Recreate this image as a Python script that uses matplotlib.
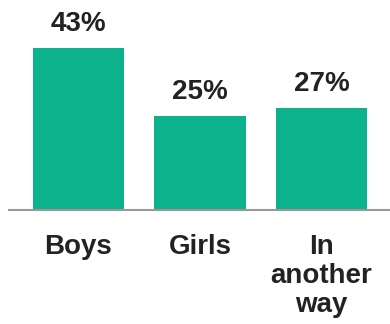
import matplotlib.pyplot as plt

# Data
categories = ["Boys", "Girls", "In\nanother\nway"]
values = [43, 25, 27]
labels = ["43%", "25%", "27%"]

bar_color = "#0BB28C"
font = ["Liberation Sans", "DejaVu Sans"]

fig = plt.figure(figsize=(3.9, 3.24), dpi=100)
ax = fig.add_axes([0, 0.352, 1, 0.648])

x = range(len(categories))
bars = ax.bar(x, values, width=0.75, color=bar_color, zorder=2)

for b, lab in zip(bars, labels):
    ax.text(b.get_x() + b.get_width() / 2, b.get_height() + 4.5, lab,
            ha="center", va="baseline", fontsize=20, fontweight="bold",
            color="#222222", family=font)

ax.set_xlim(-0.646, 2.564)
ax.set_ylim(0, 55.7)
ax.set_yticks([])
ax.set_xticks(list(x))
ax.set_xticklabels(categories, fontsize=20, fontweight="bold", color="#222222",
                   family=font, linespacing=1.15)
ax.tick_params(axis="x", length=0, pad=17)

for s in ["top", "right", "left"]:
    ax.spines[s].set_visible(False)
ax.spines["bottom"].set_color("#999999")
ax.spines["bottom"].set_linewidth(1.5)
ax.spines["bottom"].set_bounds(-0.572, 2.564)

fig.savefig("out.png", dpi=100)
